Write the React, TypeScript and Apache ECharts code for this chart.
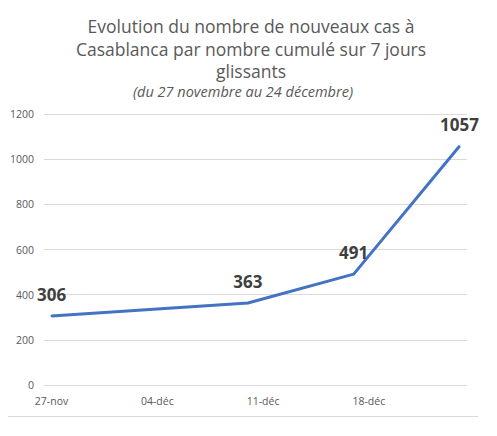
import React, { useEffect, useRef } from "react";
import * as echarts from "echarts";

const monthNames = ["nov", "déc"];
const startDay = 27;
const dayCount = 28;

const pointDates = ["27-nov", "10-déc", "17-déc", "24-déc"];
const pointValues = [306, 363, 491, 1057];

const titleLines = [
  "Evolution du nombre de nouveaux cas à",
  "Casablanca par nombre cumulé sur 7 jours",
  "glissants",
];
const subtitle = "(du 27 novembre au 24 décembre)";

// one category per day, 27-nov .. 24-déc
const buildDays = () => {
  const out: string[] = [];
  for (let i = 0; i < dayCount; i++) {
    const d = startDay + i;
    if (d <= 30) out.push(String(d).padStart(2, "0") + "-" + monthNames[0]);
    else out.push(String(d - 30).padStart(2, "0") + "-" + monthNames[1]);
  }
  return out;
};

const days = buildDays();

const App: React.FC = () => {
  const chartRef = useRef<HTMLDivElement>(null);

  useEffect(() => {
    if (!chartRef.current) return;
    const chart = echarts.init(chartRef.current, undefined, { renderer: "svg" });

    const font = "'Open Sans', sans-serif";

    const option: echarts.EChartsOption = {
      animation: false,
      backgroundColor: "#ffffff",
      textStyle: { fontFamily: font },
      title: [
        {
          text: titleLines.join("\n"),
          left: 246,
          top: 10,
          textAlign: "center",
          textStyle: {
            fontFamily: font,
            fontSize: 17.5,
            fontWeight: "normal",
            color: "#595959",
            lineHeight: 22.5,
          },
        },
        {
          text: subtitle,
          left: 238,
          top: 79,
          textAlign: "center",
          textStyle: {
            fontFamily: font,
            fontSize: 14.5,
            fontStyle: "italic",
            fontWeight: "normal",
            color: "#595959",
          },
        },
      ],
      grid: { left: 44, right: 30, top: 114, bottom: 51, containLabel: false },
      xAxis: {
        type: "category",
        data: days,
        boundaryGap: true,
        axisLine: { show: false },
        axisTick: { show: false },
        axisLabel: {
          interval: 6,
          color: "#595959",
          fontSize: 10.5,
          fontFamily: font,
          margin: 10,
        },
        splitLine: { show: false },
      },
      yAxis: {
        type: "value",
        min: 0,
        max: 1200,
        interval: 200,
        axisLine: { show: false },
        axisTick: { show: false },
        axisLabel: {
          color: "#595959",
          fontSize: 10.5,
          fontFamily: font,
          margin: 10,
          formatter: (v: number) => String(v),
        },
        splitLine: { lineStyle: { color: "#d9d9d9", width: 1 } },
      },
      series: [
        {
          type: "line",
          data: pointDates.map((d, i) => [d, pointValues[i]]),
          symbol: "circle",
          symbolSize: 2,
          showSymbol: true,
          itemStyle: { color: "#4472c4" },
          lineStyle: { color: "#4472c4", width: 3 },
          label: {
            show: true,
            position: "top",
            distance: 12,
            fontFamily: font,
            fontSize: 17,
            fontWeight: "bold",
            color: "#404040",
          },
        },
      ],
      graphic: [
        {
          type: "line",
          shape: { x1: 1.5, y1: 0, x2: 1.5, y2: 416 },
          style: { stroke: "#d9d9d9", lineWidth: 1 },
        },
        {
          type: "line",
          shape: { x1: 0, y1: 416.5, x2: 478, y2: 416.5 },
          style: { stroke: "#d9d9d9", lineWidth: 1 },
        },
      ],
    };

    chart.setOption(option as any);
    return () => {
      chart.dispose();
    };
  }, []);

  return <div ref={chartRef} style={{ width: 497, height: 436, margin: -8 }} />;
};

export default App;
